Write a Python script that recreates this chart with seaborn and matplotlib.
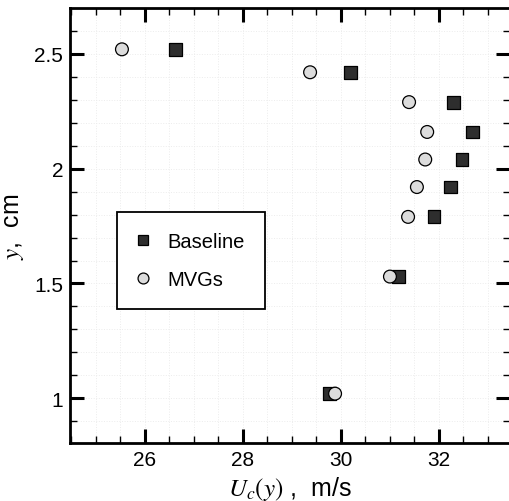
import pandas as pd
import numpy as np
import matplotlib.pyplot as plt
import seaborn as sns

# centreline velocity profile, baseline vs MVGs
y_pos = [2.52, 2.42, 2.29, 2.16, 2.04, 1.92, 1.79, 1.53, 1.02]
u_baseline = [26.63, 30.20, 32.29, 32.68, 32.47, 32.24, 31.90, 31.18, 29.77]
u_mvgs = [25.53, 29.37, 31.39, 31.76, 31.72, 31.55, 31.37, 31.00, 29.88]

df = pd.concat([
    pd.DataFrame({"U": u_baseline, "y": y_pos, "case": "Baseline"}),
    pd.DataFrame({"U": u_mvgs, "y": y_pos, "case": "MVGs"}),
])

sns.set_style("ticks")
plt.rcParams['font.family'] = ['Liberation Sans', 'DejaVu Sans']
plt.rcParams['mathtext.fontset'] = 'stix'
plt.rcParams['text.color'] = 'black'
plt.rcParams['axes.labelcolor'] = 'black'
plt.rcParams['xtick.color'] = 'black'
plt.rcParams['ytick.color'] = 'black'
plt.rcParams['axes.edgecolor'] = 'black'

fig = plt.figure(figsize=(5.10, 5.02), dpi=100)
ax = fig.add_axes([70/510, 58/502, 440/510, 435/502])

sns.scatterplot(data=df, x="U", y="y", hue="case", style="case",
                markers={"Baseline": "s", "MVGs": "o"},
                palette={"Baseline": "#2e2e2e", "MVGs": "#dcdcdc"},
                s=85, edgecolor="black", linewidth=0.9, ax=ax, zorder=3)

ax.set_xlim(24.47, 33.45)
ax.set_ylim(0.805, 2.70)
ax.set_xticks([26, 28, 30, 32])
ax.set_xticks(np.arange(24.5, 33.5, 0.5), minor=True)
ax.set_yticks([1, 1.5, 2, 2.5])
ax.set_yticklabels(["1", "1.5", "2", "2.5"])
ax.set_yticks(np.arange(0.9, 2.7, 0.1), minor=True)

ax.tick_params(which="major", direction="in", length=10, width=2.2,
               top=True, right=True, labelsize=15, pad=5)
ax.tick_params(which="minor", direction="in", length=5, width=1,
               top=True, right=True)
for sp in ax.spines.values():
    sp.set_linewidth(2)

ax.grid(which="both", color="#ececec", linestyle=":", linewidth=0.7, zorder=0)

ax.set_xlabel(r"$U_c(y)$ ,  m/s", fontsize=18, labelpad=4)
ax.set_ylabel(r"$y$,  cm", fontsize=18, labelpad=6)

leg = ax.legend(loc="lower left", bbox_to_anchor=(0.107, 0.307),
                fontsize=14.5, frameon=True, fancybox=False,
                borderpad=1.0, labelspacing=0.95, handletextpad=0.9,
                borderaxespad=0, markerscale=0.85, handlelength=0.6)
leg.get_frame().set_edgecolor("black")
leg.get_frame().set_linewidth(1.3)
leg.get_frame().set_alpha(1)
leg.set_title(None)

fig.savefig("out.png", dpi=100)
